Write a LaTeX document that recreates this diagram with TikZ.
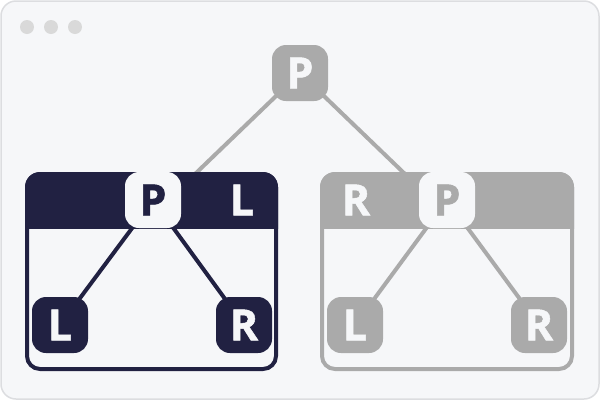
\documentclass[tikz,border=0pt]{standalone}
\usepackage{fontspec}
\setmainfont{Open Sans}
\newfontfamily\lblfont{Open Sans}[UprightFont={* Bold}, FakeBold=1.2]
\definecolor{navy}{HTML}{212142}
\definecolor{greyc}{HTML}{AAAAAA}
\definecolor{bgc}{HTML}{F6F7F9}
\definecolor{framec}{HTML}{DCDDE0}
\definecolor{dotc}{HTML}{D9D9D9}
\pgfdeclarelayer{winl}
\pgfdeclarelayer{toplines}
\pgfdeclarelayer{boxl}
\pgfdeclarelayer{edgel}
\pgfsetlayers{winl,toplines,boxl,edgel,main}
\tikzset{
  tnode/.style={rounded corners=14pt, minimum width=56pt, minimum height=56pt, inner sep=0pt,
    font=\lblfont\fontsize{43}{43}\selectfont},
  lbl/.style={inner sep=0pt, font=\lblfont\fontsize{43}{43}\selectfont, text=bgc},
  conn/.style={line width=4pt},
  dotstyle/.style={fill=dotc}
}
\begin{document}
\begin{tikzpicture}[x=1pt,y=-1pt]
\useasboundingbox (0,0) rectangle (600,400);
\begin{pgfonlayer}{winl}
  \draw[framec, fill=bgc, line width=1.5pt, rounded corners=15pt] (1,1) rectangle (599,399);
  \fill[dotstyle] (27,27) circle[radius=7pt];
  \fill[dotstyle] (51,27) circle[radius=7pt];
  \fill[dotstyle] (75,27) circle[radius=7pt];
\end{pgfonlayer}

% top node
\node[tnode, fill=greyc, text=bgc] (top) at (300,73) {P};
\coordinate (ltip) at (168,200);
\coordinate (rtip) at (432,200);
\begin{pgfonlayer}{toplines}
  \draw[conn, greyc] (top.center) -- (ltip);
  \draw[conn, greyc] (top.center) -- (rtip);
\end{pgfonlayer}

% left box
\begin{pgfonlayer}{boxl}
  \fill[bgc, rounded corners=15pt] (25,172) rectangle (278,371);
  \begin{scope}
    \clip (0,0) rectangle (600,228);
    \fill[navy, rounded corners=15pt] (25,172) rectangle (278,300);
  \end{scope}
  \draw[navy, line width=4pt, rounded corners=13pt] (27,174) rectangle (276,369);
\end{pgfonlayer}
\node[tnode, fill=bgc, text=navy] (lp) at (153,200) {P};
\node[lbl] (lh) at (242,200) {L};
\node[tnode, fill=navy, text=bgc] (ll) at (60,325) {L};
\node[tnode, fill=navy, text=bgc] (lr) at (244,325) {R};
\begin{pgfonlayer}{edgel}
  \draw[conn, navy] (lp.center) -- (ll.center);
  \draw[conn, navy] (lp.center) -- (lr.center);
\end{pgfonlayer}

% right box
\begin{pgfonlayer}{boxl}
  \fill[bgc, rounded corners=15pt] (320,172) rectangle (574,371);
  \begin{scope}
    \clip (0,0) rectangle (600,228);
    \fill[greyc, rounded corners=15pt] (320,172) rectangle (574,300);
  \end{scope}
  \draw[greyc, line width=4pt, rounded corners=13pt] (322,174) rectangle (572,369);
\end{pgfonlayer}
\node[tnode, fill=bgc, text=greyc] (rp) at (447,200) {P};
\node[lbl] (rh) at (356,200) {R};
\node[tnode, fill=greyc, text=bgc] (rl) at (355,325) {L};
\node[tnode, fill=greyc, text=bgc] (rr) at (539,325) {R};
\begin{pgfonlayer}{edgel}
  \draw[conn, greyc] (rp.center) -- (rl.center);
  \draw[conn, greyc] (rp.center) -- (rr.center);
\end{pgfonlayer}
\end{tikzpicture}
\end{document}
